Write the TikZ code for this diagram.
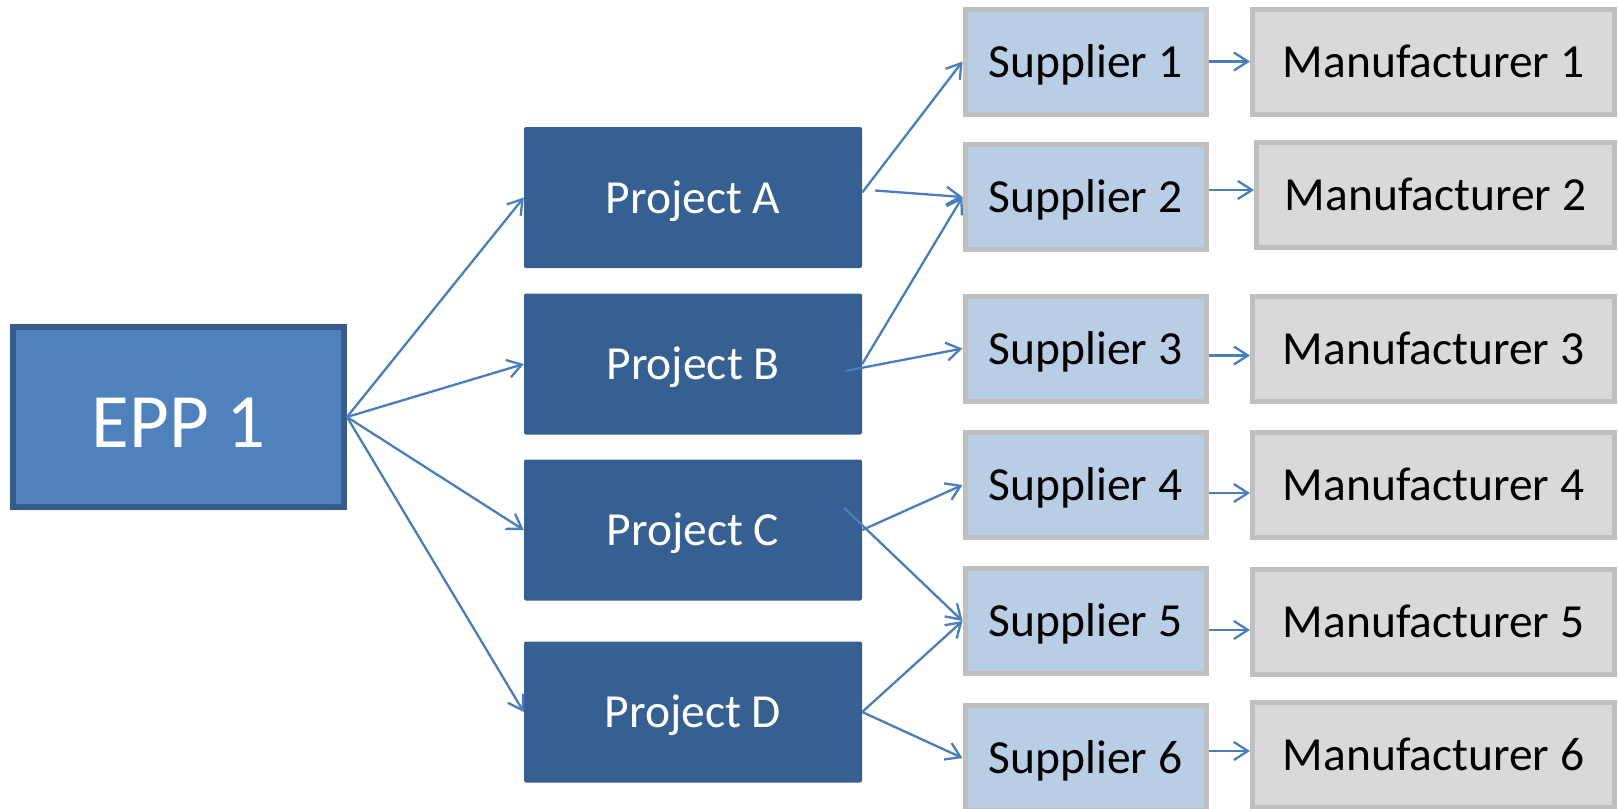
\documentclass[tikz,border=0pt]{standalone}
\usepackage{fontspec}
\setmainfont{Carlito}
\usetikzlibrary{arrows.meta}
\definecolor{eppfill}{HTML}{4F81BD}
\definecolor{eppline}{HTML}{385D8A}
\definecolor{projfill}{HTML}{376092}
\definecolor{supfill}{HTML}{B9CDE5}
\definecolor{manfill}{HTML}{D9D9D9}
\definecolor{boxline}{HTML}{BFBFBF}
\definecolor{arrowcol}{HTML}{4A7EBB}
\tikzset{
  txt/.style={font=\fontsize{47.5}{50}\selectfont, text height=37pt, text depth=6pt},
  eppbox/.style={rectangle, fill=eppfill, draw=eppline, line width=6pt, minimum width=331pt, minimum height=180pt, inner sep=0pt, text=white, font=\fontsize{77}{80}\selectfont, text height=60pt, text depth=0pt},
  projbox/.style={rectangle, rounded corners=2pt, fill=projfill, draw=none, minimum width=338pt, minimum height=141pt, inner sep=0pt, text=white, txt},
  supbox/.style={rectangle, fill=supfill, draw=boxline, line width=5pt, minimum width=241pt, minimum height=105pt, inner sep=0pt, text=black, txt},
  manbox/.style={rectangle, fill=manfill, draw=boxline, line width=5pt, minimum width=362pt, minimum height=105pt, inner sep=0pt, text=black, txt},
  conn/.style={draw=arrowcol, line width=2.3pt, -{Straight Barb[length=14pt,width=18pt]}}
}
\begin{document}
\begin{tikzpicture}[x=1pt,y=-1pt]
\useasboundingbox (0,0) rectangle (1618,809);
\node[eppbox] (epp) at (178.5,417) {EPP 1};
\node[projbox] (pA) at (693,197.5) {Project A};
\node[projbox] (pB) at (693,364) {Project B};
\node[projbox] (pC) at (693,530) {Project C};
\node[projbox] (pD) at (693,712) {Project D};
\node[supbox] (s1) at (1085.5,61.5) {Supplier 1};
\node[supbox] (s2) at (1085.5,197) {Supplier 2};
\node[supbox] (s3) at (1085.5,348.5) {Supplier 3};
\node[supbox] (s4) at (1085.5,485) {Supplier 4};
\node[supbox] (s5) at (1085.5,621) {Supplier 5};
\node[supbox] (s6) at (1085.5,758) {Supplier 6};
\node[manbox] (m1) at (1433.5,62) {Manufacturer 1};
\node[manbox, minimum width=358pt] (m2) at (1435.5,194.5) {Manufacturer 2};
\node[manbox] (m3) at (1433.5,349) {Manufacturer 3};
\node[manbox] (m4) at (1433.5,484.5) {Manufacturer 4};
\node[manbox] (m5) at (1433.5,621.5) {Manufacturer 5};
\node[manbox] (m6) at (1433.5,754.5) {Manufacturer 6};
% EPP to projects
\draw[conn] (epp.east) -- (pA.west);
\draw[conn] (epp.east) -- (pB.west);
\draw[conn] (epp.east) -- (pC.west);
\draw[conn] (epp.east) -- (pD.west);
% projects to suppliers
\draw[conn] ([yshift=5pt]pA.east) -- (s1.west);
\draw[conn] ([shift={(13,-7)}]pA.east) -- (s2.west);
\draw[conn] (pB.east) -- (s2.west);
\draw[conn] ([shift={(-17,7)}]pB.east) -- (s3.west);
\draw[conn] (pC.east) -- (s4.west);
\draw[conn] ([shift={(-18,-22)}]pC.east) -- (s5.west);
\draw[conn] (pD.east) -- (s5.west);
\draw[conn] (pD.east) -- (s6.west);
% suppliers to manufacturers
\draw[conn] (s1.east) -- (s1.east -| m1.west);
\draw[conn] ([yshift=7pt]s2.east) -- ([yshift=7pt]s2.east -| m2.west);
\draw[conn] ([yshift=-7pt]s3.east) -- ([yshift=-7pt]s3.east -| m3.west);
\draw[conn] ([yshift=-8pt]s4.east) -- ([yshift=-8pt]s4.east -| m4.west);
\draw[conn] ([yshift=-9pt]s5.east) -- ([yshift=-9pt]s5.east -| m5.west);
\draw[conn] ([yshift=7pt]s6.east) -- ([yshift=7pt]s6.east -| m6.west);
\end{tikzpicture}
\end{document}
